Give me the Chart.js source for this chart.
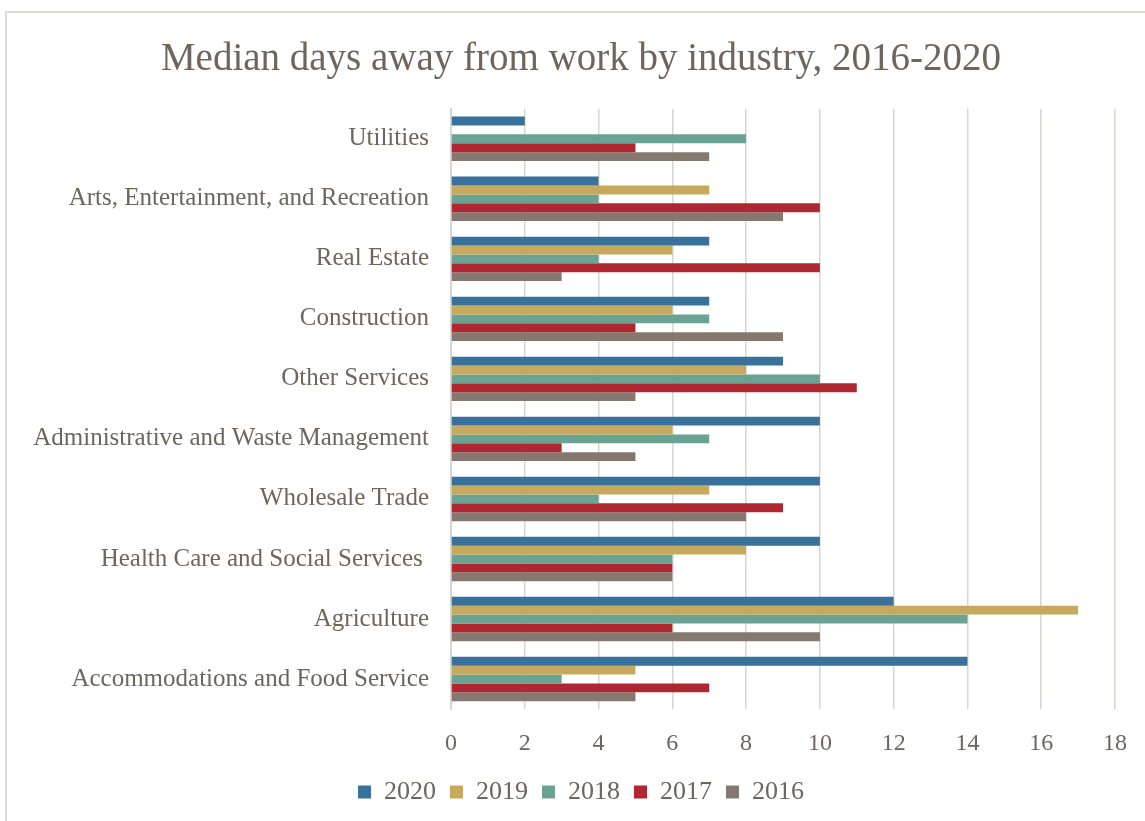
<!DOCTYPE html>
<html>
<head>
<meta charset="utf-8">
<title>Median days away from work by industry, 2016-2020</title>
<script src="https://cdn.jsdelivr.net/npm/chart.js@4"></script>
<style>
  html, body { margin: 0; padding: 0; background: #fff; overflow: hidden; }
  #frame {
    position: absolute; left: 5px; top: 11px;
    width: 1152px; height: 840px;
    border: 2px solid #dedad5; box-sizing: border-box;
  }
  #wrap { position: relative; width: 1148px; height: 804px; }
</style>
</head>
<body>
<div id="frame"><div id="wrap"><canvas id="chart"></canvas></div></div>
<script>
// industries, top to bottom
const industries = [
    'Utilities',
    'Arts, Entertainment, and Recreation',
    'Real Estate',
    'Construction',
    'Other Services',
    'Administrative and Waste Management',
    'Wholesale Trade',
    'Health Care and Social Services ',
    'Agriculture',
    'Accommodations and Food Service'
];

// median days away from work
const days2020 = [2, 4, 7, 7, 9, 10, 10, 10, 12, 14];
const days2019 = [null, 7, 6, 6, 8, 6, 7, 8, 17, 5];
const days2018 = [8, 4, 4, 7, 10, 7, 4, 6, 14, 3];
const days2017 = [5, 10, 10, 5, 11, 3, 9, 6, 6, 7];
const days2016 = [7, 9, 3, 9, 5, 5, 8, 6, 10, 5];

const years = ['2020', '2019', '2018', '2017', '2016'];
const colors = ['#37719c', '#c7a95d', '#6aa394', '#af2831', '#84786f'];

const xTicks = { min: 0, max: 18, step: 2 };

const TEXT = '#6e655c';
const GRID = '#d9d5d0';
const FONT = "'Liberation Serif', 'Times New Roman', serif";

const series = [days2020, days2019, days2018, days2017, days2016];

const datasets = series.map((data, i) => ({
    label: years[i],
    data: data,
    backgroundColor: colors[i],
    borderWidth: 0,
    categoryPercentage: 0.74,
    barPercentage: 1.0
}));

// title and legend sit centred on the whole frame, not on the padded box
const centreOnFrame = {
    id: 'centreOnFrame',
    afterLayout(chart) {
        [chart.titleBlock, chart.legend].forEach(box => {
            if (!box) return;
            box.left = 0;
            box.right = chart.width;
        });
    }
};

new Chart(document.getElementById('chart'), {
    type: 'bar',
    data: { labels: industries, datasets: datasets },
    plugins: [centreOnFrame],
    options: {
        indexAxis: 'y',
        responsive: true,
        maintainAspectRatio: false,
        animation: false,
        layout: { padding: { top: 0, right: 40, bottom: 2, left: 0 } },
        plugins: {
            title: {
                display: true,
                text: 'Median days away from work by industry, 2016-2020',
                color: TEXT,
                font: { family: FONT, size: 39, weight: 'normal' },
                padding: { top: 23, bottom: 26 }
            },
            legend: {
                position: 'bottom',
                labels: {
                    color: TEXT,
                    boxWidth: 13,
                    boxHeight: 13,
                    padding: 14,
                    font: { family: FONT, size: 26 }
                }
            },
            tooltip: { enabled: false }
        },
        scales: {
            x: {
                min: xTicks.min,
                max: xTicks.max,
                ticks: {
                    stepSize: xTicks.step,
                    color: TEXT,
                    padding: 20,
                    font: { family: FONT, size: 24 }
                },
                grid: { color: GRID, lineWidth: 1.5, drawTicks: false },
                border: { display: false },
                afterFit: scale => { scale.height = 56; }
            },
            y: {
                ticks: {
                    color: TEXT,
                    padding: 22,
                    font: { family: FONT, size: 25 }
                },
                grid: { display: false, drawTicks: false },
                border: { display: true, color: GRID, width: 2 },
                afterFit: scale => { scale.width = 444; }
            }
        }
    }
});
</script>
</body>
</html>
